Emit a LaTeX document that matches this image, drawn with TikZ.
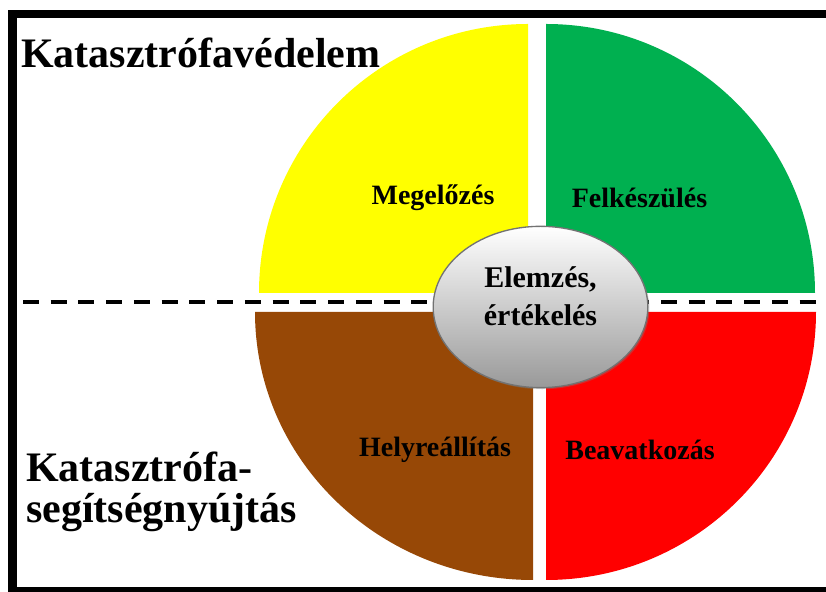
\documentclass[tikz,border=0pt]{standalone}
\usepackage{fontspec}
\setmainfont{Liberation Serif}
\usetikzlibrary{shapes.geometric,shadows}

\definecolor{quadyellow}{RGB}{255,255,0}
\definecolor{quadgreen}{RGB}{0,176,80}
\definecolor{quadbrown}{RGB}{151,72,6}
\definecolor{quadred}{RGB}{255,0,0}

\tikzset{
    quadtag/.style={font=\bfseries\fontsize{21}{24}\selectfont, inner sep=0},
    heading/.style={font=\bfseries\fontsize{31.5}{31}\selectfont, inner sep=0, align=left},
}

\begin{document}
\begin{tikzpicture}[x=0.75pt, y=0.75pt]

    \useasboundingbox (0,0) rectangle (826,592);
    \clip (0,0) rectangle (826,592);

    %% Frame and dividing line

    \draw[line width=6.5pt] (12.5,1) rectangle (840,578);
    \draw[line width=3pt, dash pattern=on 12pt off 8.8pt] (23,290) -- (840,290);

    %% Quarters

    % Top left
    \fill[quadyellow] (528,299) -- ++(-269,0) arc[start angle=180, end angle=90, radius=269] -- cycle;
    \node[quadtag] (prevent) at (433,394) {Megelőzés};

    % Top right
    \fill[quadgreen] (546,299) -- ++(0,269) arc[start angle=90, end angle=0, radius=269] -- cycle;
    \node[quadtag] (prepare) at (639.5,394) {Felkészülés};

    % Bottom left
    \fill[quadbrown] (533,280) -- ++(-278,0) arc[start angle=180, end angle=270, x radius=278, y radius=268] -- cycle;
    \node[quadtag] (recover) at (435,142) {Helyreállítás};

    % Bottom right
    \fill[quadred] (546,280) -- ++(270,0) arc[start angle=0, end angle=-90, x radius=270, y radius=268] -- cycle;
    \node[quadtag] (respond) at (640,142) {Beavatkozás};

    %% Centre

    \node[ellipse, draw=black!55, line width=1pt, top color=white, bottom color=black!40,
          minimum width=161pt, minimum height=121pt, inner sep=0,
          drop shadow={shadow xshift=1.2pt, shadow yshift=-1.2pt, opacity=0.35}] (core) at (540.5,285) {};
    \node[font=\bfseries\fontsize{22.5}{28.5}\selectfont, align=center, inner sep=0] (coretext) at (540.5,296) {Elemzés,\\értékelés};

    %% Headings

    \node[heading, anchor=base west] (protect) at (21,524) {Katasztrófavédelem};
    \node[heading, anchor=base west] (relief) at (26,69) {Katasztrófa-\\segítségnyújtás};

\end{tikzpicture}
\end{document}
